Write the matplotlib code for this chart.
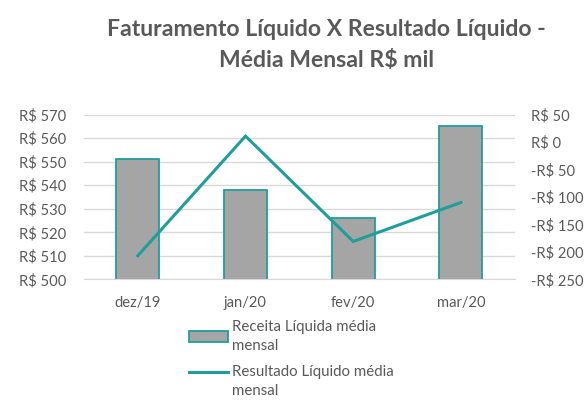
import matplotlib
matplotlib.use("Agg")
import matplotlib.pyplot as plt
from matplotlib.ticker import FuncFormatter
from matplotlib.legend_handler import HandlerPatch, HandlerLine2D
from matplotlib.transforms import Affine2D

# Faturamento x Resultado, media mensal (R$ mil)
meses = ["dez/19", "jan/20", "fev/20", "mar/20"]
receita = [551.2, 538.1, 526.2, 565.2]
resultado = [-207, 11, -181, -110]

cinza_txt = "#595959"
teal = "#1F9E9A"

plt.rcParams['font.family'] = ['Lato', 'DejaVu Sans']


# handles aligned with the first line of the label, like excel does
class PatchTopo(HandlerPatch):
    def create_artists(self, legend, orig_handle, xdescent, ydescent, width, height, fontsize, trans):
        return super().create_artists(legend, orig_handle, xdescent, ydescent, width, height,
                                      fontsize, Affine2D().translate(0, 7) + trans)


class LinhaTopo(HandlerLine2D):
    def create_artists(self, legend, orig_handle, xdescent, ydescent, width, height, fontsize, trans):
        return super().create_artists(legend, orig_handle, xdescent, ydescent, width, height,
                                      fontsize, Affine2D().translate(0, 7) + trans)


fig = plt.figure(figsize=(5.87, 4.01), dpi=100)
ax = fig.add_axes([0.143, 0.3035, 0.734, 0.4105])
ax2 = ax.twinx()

x = range(len(meses))
barras = ax.bar(x, receita, width=0.40, color="#A5A5A5", edgecolor=teal, linewidth=1.3,
                label="Receita Líquida média\nmensal", zorder=2)
linha, = ax2.plot(x, resultado, color=teal, linewidth=2.2, label="Resultado Líquido média\nmensal",
                  solid_joinstyle="miter")

ax.set_xlim(-0.5, 3.5)
ax.set_ylim(500, 570)
ax.set_yticks(range(500, 571, 10))
ax2.set_ylim(-250, 50)
ax2.set_yticks(range(-250, 51, 50))

ax.yaxis.set_major_formatter(FuncFormatter(lambda v, p: "R$ %d" % v))
ax2.yaxis.set_major_formatter(FuncFormatter(
    lambda v, p: ("-R$ %d" % abs(v)) if v < 0 else ("R$ %d" % v)))

ax.set_xticks(list(x))
ax.set_xticklabels(meses)
ax.grid(axis="y", color="#D9D9D9", linewidth=1.0, zorder=0)
ax.set_axisbelow(True)

for a in (ax, ax2):
    for s in a.spines.values():
        s.set_visible(False)
    a.tick_params(length=0, labelsize=10.6, labelcolor=cinza_txt)
ax.tick_params(axis="y", pad=13)
ax2.tick_params(axis="y", pad=12)
ax.tick_params(axis="x", pad=12)
ax.spines["bottom"].set_visible(True)
ax.spines["bottom"].set_color("#D9D9D9")

fig.suptitle("Faturamento Líquido X Resultado Líquido -\nMédia Mensal R$ mil",
             x=0.556, y=0.953, fontsize=16.6, fontweight="bold", color=cinza_txt,
             linespacing=1.58)

leg = fig.legend([barras, linha], [barras.get_label(), linha.get_label()],
                 loc="upper left", bbox_to_anchor=(0.322, 0.203),
                 frameon=False, fontsize=10.8, labelcolor=cinza_txt, handlelength=2.6,
                 handletextpad=0.25, labelspacing=0.85, borderaxespad=0, borderpad=0,
                 handler_map={type(barras.patches[0]): PatchTopo(), type(linha): LinhaTopo()})
for t in leg.get_texts():
    t.set_linespacing(1.45)

fig.savefig("out.png", dpi=100)
